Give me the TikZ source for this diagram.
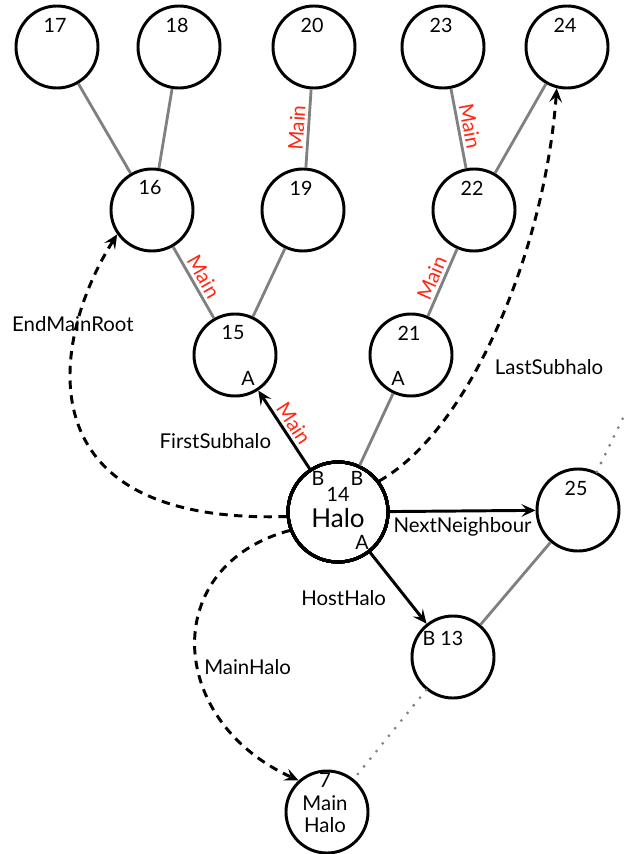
\documentclass[tikz,border=0pt]{standalone}
\usepackage{fontspec}
\setmainfont{Lato}
\usetikzlibrary{arrows.meta}
\definecolor{linkgray}{RGB}{128,128,128}
\definecolor{mainred}{RGB}{255,40,20}
\tikzset{
	halo/.style={circle,draw,line width=2.1pt,minimum size=2.05cm,inner sep=0pt},
	bighalo/.style={halo,minimum size=2.5cm},
	num/.style={font=\fontsize{14}{16}\selectfont,inner sep=1pt},
	lbl/.style={font=\fontsize{14.5}{16}\selectfont},
	link/.style={draw=linkgray,line width=2pt},
	ptr/.style={draw,line width=2.1pt,-{Stealth[length=10pt,width=9pt,inset=4pt]}},
	dptr/.style={ptr,dash pattern=on 6pt off 4.5pt},
	dots/.style={draw=linkgray,line width=2.2pt,line cap=round,dash pattern=on 0pt off 7pt},
	mainlbl/.style={lbl,text=mainred,sloped,above,pos=0.5,inner sep=2pt},
}
\newcommand{\hnode}[4]{% #1: name, #2: x, #3: y, #4: number
	\node[halo] (#1) at (#2,#3) {};
	\node[num] (#1t) at ([shift={(-2,22)}]#1) {#4};
}

\begin{document}
\begin{tikzpicture}[x=0.025cm,y=0.025cm]
	\useasboundingbox (0,0) rectangle (627,-854);
	
	% Draw the halos
	\foreach \n/\x/\y in {17/57/47,18/179/47,20/314/47,23/443/47,24/567/47,16/152/210,19/303/210,22/474/210,15/235/355,21/411/355,25/578/510}
		\hnode{n\n}{\x}{-\y}{\n}
	\node[bighalo] (n14) at (338,-512) {};
	\node[halo] (n13) at (453,-657) {};
	\node[halo] (n7) at (327,-812) {};
	
	% Texts inside the halos
	\node[num] (n15a) at ([shift={(13,-23)}]n15) {A};
	\node[num] (n21a) at ([shift={(-13,-23)}]n21) {A};
	\node[num] (n14b1) at ([shift={(-20,34)}]n14) {B};
	\node[num] (n14b2) at ([shift={(19,34)}]n14) {B};
	\node[num] (n14t) at ([shift={(0,18)}]n14) {14};
	\node[font=\fontsize{18.5}{20}\selectfont,inner sep=0pt] (n14h) at ([shift={(0,-6)}]n14) {Halo};
	\node[num] (n14a) at ([shift={(24,-30)}]n14) {A};
	\node[num] (n13t) at ([shift={(-10,19)}]n13) {B 13};
	\node[lbl,align=center,inner sep=0pt] (n7t) at ([shift={(-2,9)}]n7) {7\\Main\\Halo};
	
	% Tree links
	\foreach \a/\b in {n17/n16,n18/n16,n19/n15,n24/n22,n21/n14,n25/n13}
		\draw[link] (\a) -- (\b);
	\draw[link] (n19) -- node[mainlbl]{Main} (n20);
	\draw[link] (n23) -- node[mainlbl]{Main} (n22);
	\draw[link] (n16) -- node[mainlbl]{Main} (n15);
	\draw[link] (n21) -- node[mainlbl]{Main} (n22);
	
	% Pointers
	\draw[ptr] (n14) -- node[mainlbl]{Main} node[lbl,pos=0.36,left=10pt]{FirstSubhalo} (n15);
	\draw[ptr] (n14) -- node[lbl,below]{NextNeighbour} (n25);
	\draw[ptr] (n14) -- node[lbl,pos=0.64,left=10pt]{HostHalo} (n13);
	\draw[dptr] (n14.185) .. controls (20,-525) and (50,-340) .. node[lbl,pos=0.75,xshift=-3.5pt]{EndMainRoot} (n16.215);
	\draw[dptr] (n14.37) .. controls (470,-430) and (545,-250) .. node[lbl,pos=0.4,right=8pt]{LastSubhalo} (n24.256);
	\draw[dptr] (n14.201) .. controls (160,-565) and (165,-720) .. node[lbl,pos=0.57,right]{MainHalo} (n7.132);
	
	% Dotted progenitor links
	\coordinate (c25) at (623,-418);
	\draw[dots] (n13) -- (n7);
	\draw[dots] (n25) -- (c25);
\end{tikzpicture}
\end{document}
